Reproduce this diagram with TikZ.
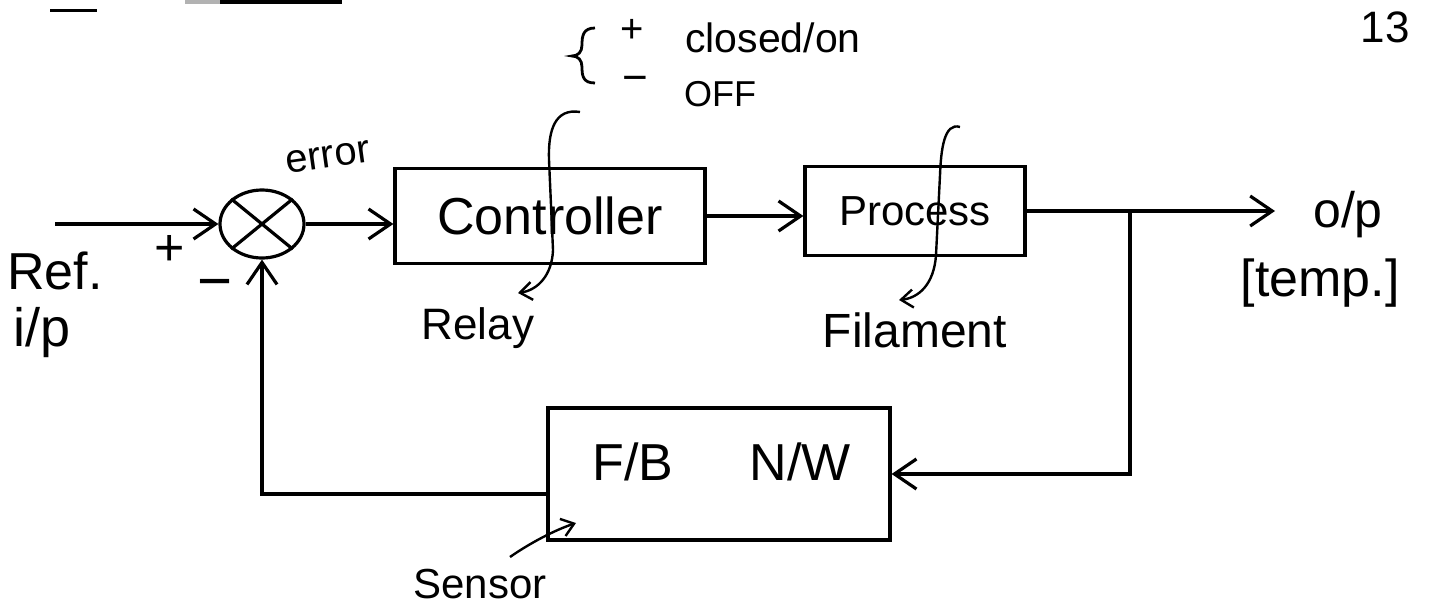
\documentclass[tikz,border=0pt]{standalone}
\usepackage{fontspec}
\setmainfont{Liberation Sans}
\usetikzlibrary{arrows.meta,shapes.geometric,calc}
\begin{document}
\begin{tikzpicture}[x=0.5pt,y=-0.5pt,line width=1.6pt,
  blk/.style={draw,rectangle,inner sep=0pt,line width=1.6pt},
  lbl/.style={inner sep=0pt},
  arr/.style={-{Straight Barb[length=11pt,width=15pt]}},
  smallarr/.style={line width=1.2pt,-{Straight Barb[length=6pt,width=9pt]}},
  fs/.style={font=\fontsize{#1}{#1}\selectfont}]
\useasboundingbox (0,0) rectangle (1433,611);
% fragments at the top edge
\draw[line width=1.5pt] (50,10) -- (97,10);
\draw[line width=3pt,gray!60] (185,1) -- (220,1);
\draw[line width=3pt] (220,1) -- (342,1);
% blocks
\node[draw,ellipse,minimum width=42pt,minimum height=34pt,inner sep=0pt] (sum) at (262,224) {};
\draw (sum.north west) -- (sum.south east);
\draw (sum.north east) -- (sum.south west);
\node[blk,minimum width=155pt,minimum height=47.5pt,fs=26] (ctrl) at (550,216) {Controller};
\node[blk,minimum width=110pt,minimum height=44.5pt,fs=21] (proc) at (915,211) {Process};
\node[blk,minimum width=171pt,minimum height=66pt] (fb) at (719,474) {};
\node[lbl,fs=26] (fbt) at (633,462) {F/B};
\node[lbl,fs=26] (nwt) at (800,462) {N/W};
% labels
\node[lbl,fs=26] (ref) at (55,271) {Ref.};
\node[lbl,fs=27] (ip) at (42,333) {i/p};
\node[lbl,fs=26] (plus) at (170,250) {+};
\node[lbl,fs=30] (minus) at (215,290) {−};
\node[lbl,fs=20,rotate=8] (err) at (328,157) {error};
\node[lbl,fs=22] (relay) at (478,328) {Relay};
\node[lbl,fs=24] (fil) at (915,330) {Filament};
\node[lbl,fs=25] (op) at (1348,215) {o/p};
\node[lbl,fs=26] (temp) at (1320,283) {[temp.]};
\node[lbl,fs=21] (sensor) at (480,584) {Sensor};
\node[lbl,fs=22] (pg) at (1385,27) {13};
\node[lbl,fs=20] (bp) at (632,31) {+};
\node[lbl,fs=22] (bm) at (635,84) {−};
\node[lbl,fs=20.5] (closed) at (773,38) {closed/on};
\node[lbl,fs=18] (off) at (720,94) {OFF};
% brace
\draw[line width=1.4pt] (595,28) .. controls (583,28) and (582,36) .. (582,45) .. controls (582,52) and (578,56) .. (572,56) .. controls (578,56) and (582,60) .. (582,67) .. controls (582,76) and (583,83) .. (595,83);
% connectors
\coordinate (in) at (55,224);
\draw[arr] (in) -- (sum.west);
\draw[arr] (sum.east) -- (sum.east -| ctrl.west);
\draw[arr] (ctrl.east) -- (ctrl.east -| proc.west);
\coordinate (out) at (1275,211);
\draw[arr] (proc.east) -- (out);
\coordinate (br) at (1130,211);
\draw[arr] (br) |- (fb.east);
\coordinate (fbk) at (0,494);
\draw[arr] (fb.west |- fbk) -| (sum.south);
% pointers
\coordinate (rtop) at (580,112);
\coordinate (rtip) at (518,293);
\draw[smallarr] (rtop) .. controls (555,108) and (548,130) .. (549,160) -- (553,250) .. controls (552,275) and (538,290) .. (rtip);
\coordinate (ftop) at (960,127);
\coordinate (ftip) at (899,300);
\draw[smallarr] (ftop) .. controls (944,122) and (941,150) .. (940,175) -- (936,255) .. controls (934,285) and (918,298) .. (ftip);
\coordinate (stail) at (510,557);
\coordinate (stip) at (576,523);
\draw[smallarr] (stail) .. controls (530,543) and (555,530) .. (stip);
\end{tikzpicture}
\end{document}
